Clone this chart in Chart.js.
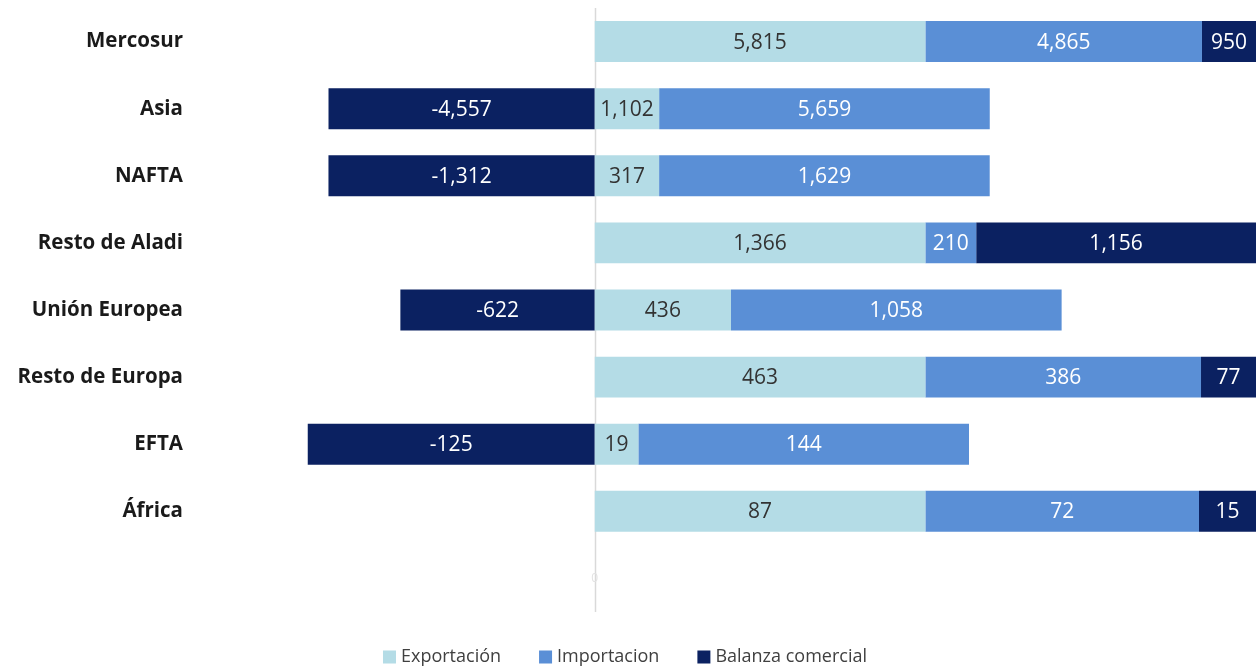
<!DOCTYPE html>
<html>
<head>
<meta charset="utf-8">
<script src="https://cdn.jsdelivr.net/npm/chart.js@4.4.1/dist/chart.umd.min.js"></script>
<style>
    html, body { margin: 0; padding: 0; background: #fff; }
    #wrap { width: 1256px; height: 668px; position: relative; }
</style>
</head>
<body>
<div id="wrap"><canvas id="tradeChart"></canvas></div>
<script>
// Comercio por bloque: exportación, importación y balanza comercial
const categories = ['Mercosur', 'Asia', 'NAFTA', 'Resto de Aladi', 'Unión Europea', 'Resto de Europa', 'EFTA', 'África', ''];
const exportacion = [5815, 1102, 317, 1366, 436, 463, 19, 87];
const importacion = [4865, 5659, 1629, 210, 1058, 386, 144, 72];
const balanza = [950, -4557, -1312, 1156, -622, 77, -125, 15];
const seriesNames = ['Exportación', 'Importacion', 'Balanza comercial'];
const seriesColors = ['#b4dce6', '#5a8fd6', '#0b2161'];

const FONT = '"Open Sans", Lato, sans-serif';

// each segment is drawn as its share of the row's absolute total
function shares(values) {
    return values.map((v, i) => {
        const total = Math.abs(exportacion[i]) + Math.abs(importacion[i]) + Math.abs(balanza[i]);
        return v / total;
    });
}

const rawSeries = [exportacion, importacion, balanza];

const zeroLine = {
    id: 'zeroLine',
    beforeDatasetsDraw(chart) {
        const ctx = chart.ctx;
        const area = chart.chartArea;
        const x0 = Math.round(chart.scales.x.getPixelForValue(0)) + 0.5;
        ctx.save();
        ctx.strokeStyle = '#d9d9d9';
        ctx.lineWidth = 1.5;
        ctx.beginPath();
        ctx.moveTo(x0, area.top);
        ctx.lineTo(x0, area.bottom);
        ctx.stroke();
        ctx.restore();
    }
};

const valueLabels = {
    id: 'valueLabels',
    afterDatasetsDraw(chart) {
        const ctx = chart.ctx;
        ctx.save();
        ctx.font = '21px ' + FONT;
        ctx.textAlign = 'center';
        ctx.textBaseline = 'middle';
        chart.data.datasets.forEach((ds, di) => {
            const meta = chart.getDatasetMeta(di);
            meta.data.forEach((bar, i) => {
                const raw = rawSeries[di][i];
                if (raw === undefined) return;
                const p = bar.getCenterPoint();
                ctx.fillStyle = di === 0 ? '#333333' : '#ffffff';
                ctx.fillText(raw.toLocaleString('en-US'), p.x, p.y + 1);
            });
        });
        // faint zero mark near the foot of the axis
        const x0 = chart.scales.x.getPixelForValue(0);
        const yLast = chart.scales.y.getPixelForValue(categories.length - 1);
        ctx.font = '12px ' + FONT;
        ctx.fillStyle = '#e2e2e2';
        ctx.fillText('0', x0, yLast);
        ctx.restore();
    }
};

// legend drawn by hand so the item spacing can follow the original
const bottomLegend = {
    id: 'bottomLegend',
    afterDraw(chart) {
        const ctx = chart.ctx;
        const box = 13, gapText = 5, gapItem = 38;
        ctx.save();
        ctx.font = '18px ' + FONT;
        ctx.textBaseline = 'middle';
        const widths = seriesNames.map(n => ctx.measureText(n).width);
        const total = widths.reduce((a, w) => a + box + gapText + w, 0) + gapItem * (seriesNames.length - 1);
        let x = 625 - total / 2;
        const y = 657;
        seriesNames.forEach((name, k) => {
            ctx.fillStyle = seriesColors[k];
            ctx.fillRect(x, y - box / 2, box, box);
            x += box + gapText;
            ctx.fillStyle = '#404040';
            ctx.fillText(name, x, y);
            x += widths[k] + gapItem;
        });
        ctx.restore();
    }
};

new Chart(document.getElementById('tradeChart'), {
    type: 'bar',
    data: {
        labels: categories,
        datasets: rawSeries.map((vals, k) => ({
            label: seriesNames[k],
            data: shares(vals),
            backgroundColor: seriesColors[k],
            borderWidth: 0,
            barPercentage: 0.61,
            categoryPercentage: 1.0
        }))
    },
    options: {
        indexAxis: 'y',
        responsive: true,
        maintainAspectRatio: false,
        animation: false,
        layout: { padding: { top: 8, right: 0, left: 0, bottom: 56 } },
        plugins: {
            legend: { display: false },
            tooltip: { enabled: false }
        },
        scales: {
            x: {
                display: false,
                stacked: true,
                min: -0.6,
                max: 1.0
            },
            y: {
                stacked: true,
                border: { display: false },
                grid: { display: false, drawTicks: true, tickLength: 15 },
                ticks: {
                    padding: 0,
                    color: '#1a1a1a',
                    font: { family: FONT, size: 20.5, weight: 'bold' }
                },
                afterFit: (scale) => {
                    scale.width = 198;
                    scale.paddingTop = 0;
                    scale.paddingBottom = 0;
                }
            }
        }
    },
    plugins: [zeroLine, valueLabels, bottomLegend]
});
</script>
</body>
</html>
